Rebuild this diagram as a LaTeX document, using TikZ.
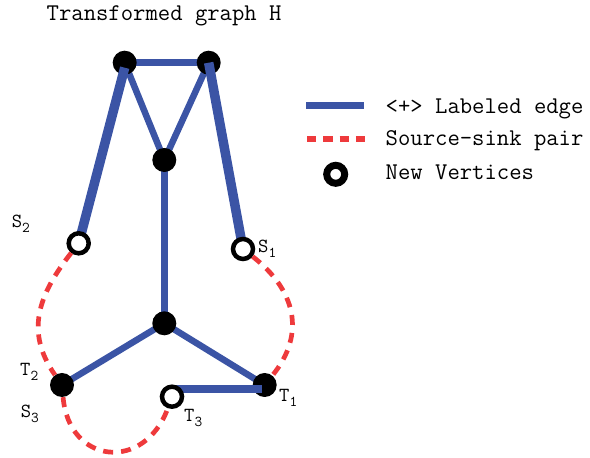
\documentclass[tikz,border=0pt]{standalone}
\usepackage{fontspec}
\definecolor{edgeblue}{RGB}{59,84,165}
\definecolor{pairred}{RGB}{238,58,60}
\newcommand{\lsub}[2]{#1\raisebox{-5pt}{\fontsize{15}{15}\selectfont #2}}
\begin{document}
\begin{tikzpicture}[x=1pt,y=1pt,
  blk/.style={circle,fill=black,inner sep=0pt,minimum size=24pt},
  newv/.style={circle,draw=black,fill=white,line width=4.5pt,inner sep=0pt,minimum size=20pt},
  blue edge/.style={draw=edgeblue,line width=6.5pt},
  thick edge/.style={draw=edgeblue,line width=9.5pt},
  pair/.style={draw=pairred,line width=4.7pt,dash pattern=on 10pt off 8pt},
  lbl/.style={anchor=base west,inner sep=0pt,font=\ttfamily\fontsize{20}{20}\selectfont},
  txt/.style={anchor=base west,inner sep=0pt,font=\ttfamily\fontsize{24}{24}\selectfont}]
\useasboundingbox (0,0) rectangle (590,458);
% title
\node[txt] (title) at (46.5,437.3) {Transformed graph H};
% positions
\coordinate (pA) at (124.7,395.3);
\coordinate (pB) at (208.7,395.3);
\coordinate (pC) at (164.3,298);
\coordinate (pD) at (164.3,134.7);
\coordinate (pT2) at (62,73);
\coordinate (pT1) at (264.7,73);
\coordinate (S2) at (78.7,214.7);
\coordinate (S1) at (243,209);
\coordinate (T3) at (172,61.3);
\coordinate (T3h) at (172,69);
% base blue edges
\draw[blue edge] (pA) -- (pB);
\draw[blue edge] (pA) -- (pC);
\draw[blue edge] (pB) -- (pC);
\draw[blue edge] (pC) -- (pD);
\draw[blue edge] (pD) -- (pT2);
\draw[blue edge] (pD) -- (pT1);
% black vertices
\node[blk] (A) at (pA) {};
\node[blk] (B) at (pB) {};
\node[blk] (C) at (pC) {};
\node[blk] (D) at (pD) {};
\node[blk] (T2) at (pT2) {};
\node[blk] (T1) at (pT1) {};
% edges to new vertices
\draw[thick edge] ([yshift=-5pt]A.center) -- (S2);
\draw[thick edge] (B.center) -- (S1);
\draw[blue edge,line width=7.7pt] (T3h) -- ([xshift=-3pt]T3h -| T1.center);
% open circles
\node[newv] (nS2) at (S2) {};
\node[newv] (nS1) at (S1) {};
\node[newv] (nT3) at (T3) {};
% source-sink pairs
\draw[pair] (nS2) to[out=-128,in=125,looseness=1.1] (T2);
\draw[pair] (nS1) to[out=-38,in=51,looseness=1.15] (T1);
\draw[pair] (T2) to[out=-85,in=-110,looseness=1.65] (nT3);
% labels
\node[lbl] (lS2) at (11.7,230) {\lsub{S}{2}};
\node[lbl] (lS1) at (258,205) {\lsub{S}{1}};
\node[lbl] (lT2) at (20,82) {\lsub{T}{2}};
\node[lbl] (lS3) at (20.7,40) {\lsub{S}{3}};
\node[lbl] (lT1) at (279,56.3) {\lsub{T}{1}};
\node[lbl] (lT3) at (184,36.3) {\lsub{T}{3}};
% legend
\coordinate (LBa) at (306,352);
\coordinate (LBb) at (364,352);
\coordinate (LRa) at (307,319);
\coordinate (LRb) at (365,319);
\draw[draw=edgeblue,line width=7pt] (LBa) -- (LBb);
\draw[draw=pairred,line width=6pt,dash pattern=on 9.3pt off 7pt] (LRa) -- (LRb);
\node[circle,draw=black,line width=7pt,fill=white,inner sep=0pt,minimum size=18pt] (LC) at (335.7,283.7) {};
\node[txt] (t1) at (385.5,344.7) {<+> Labeled edge};
\node[txt] (t2) at (385.5,312.3) {Source-sink pair};
\node[txt] (t3) at (385.5,278) {New Vertices};
\end{tikzpicture}
\end{document}
